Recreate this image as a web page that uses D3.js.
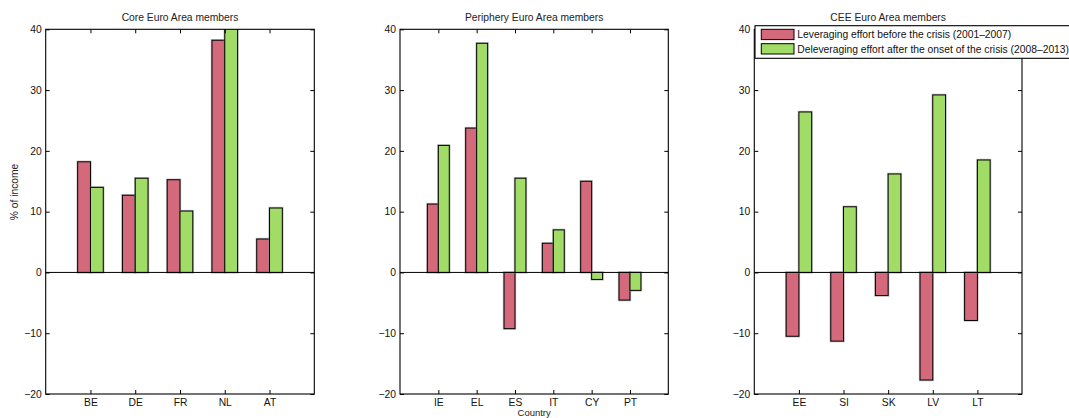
<!DOCTYPE html>
<html>
<head>
<meta charset="utf-8">
<script src="https://cdn.jsdelivr.net/npm/d3@7/dist/d3.min.js"></script>
<style>
  html, body { margin: 0; padding: 0; background: #fff; }
  svg { display: block; font-family: "Liberation Sans", Arial, Helvetica, sans-serif; }
  .tick text { font-size: 10.3px; fill: #111; }
</style>
</head>
<body>
<svg id="chart" width="1069" height="418"></svg>
<script>
// Household leveraging / deleveraging effort, % of income
const coreCountries = ["BE", "DE", "FR", "NL", "AT"];
const coreLeveraging = [18.2, 12.7, 15.25, 38.2, 5.5];
const coreDeleveraging = [14.0, 15.5, 10.1, 41.5, 10.6];

const periCountries = ["IE", "EL", "ES", "IT", "CY", "PT"];
const periLeveraging = [11.25, 23.75, -9.25, 4.8, 15.0, -4.55];
const periDeleveraging = [20.9, 37.7, 15.5, 7.0, -1.15, -2.95];

const ceeCountries = ["EE", "SI", "SK", "LV", "LT"];
const ceeLeveraging = [-10.5, -11.3, -3.8, -17.7, -7.9];
const ceeDeleveraging = [26.4, 10.8, 16.2, 29.2, 18.5];

const panelTitles = ["Core Euro Area members", "Periphery Euro Area members", "CEE Euro Area members"];
const seriesNames = [
  "Leveraging effort before the crisis (2001\u20132007)",
  "Deleveraging effort after the onset of the crisis (2008\u20132013)"
];
const yTicks = [-20, -10, 0, 10, 20, 30, 40];
const yDomain = [-20, 40];

const colors = ["#d4697b", "#a1dd66"];
const barWidth = 0.2857;   // each bar, in category units
const tickLen = 4;
const fontSize = 10.3;

const svg = d3.select("#chart");
const defs = svg.append("defs");

const panels = [
  { cats: coreCountries, series: [coreLeveraging, coreDeleveraging], left: 45.7, right: 314.3 },
  { cats: periCountries, series: [periLeveraging, periDeleveraging], left: 400, right: 668.3 },
  { cats: ceeCountries, series: [ceeLeveraging, ceeDeleveraging], left: 754.3, right: 1022 }
];
const plotTop = 29.3, plotBottom = 394;

const y = d3.scaleLinear().domain(yDomain).range([plotBottom, plotTop]);
const fmt = d => (d < 0 ? "\u2212" + Math.abs(d) : String(d));

panels.forEach((p, pi) => {
  const x = d3.scaleLinear().domain([0, p.cats.length + 1]).range([p.left, p.right]);
  const g = svg.append("g");

  defs.append("clipPath").attr("id", "clip" + pi)
    .append("rect")
    .attr("x", p.left).attr("y", plotTop)
    .attr("width", p.right - p.left).attr("height", plotBottom - plotTop);

  const bars = g.append("g").attr("clip-path", `url(#clip${pi})`);
  p.series.forEach((vals, si) => {
    const rows = vals.map((v, i) => ({ v, i }));
    const x0 = d => x(d.i + 1 + (si === 0 ? -barWidth : 0));
    const w = x(barWidth) - x(0);
    // soft halo around each bar edge
    bars.selectAll(null).data(rows).join("rect")
      .attr("x", x0).attr("width", w)
      .attr("y", d => y(Math.max(0, d.v)))
      .attr("height", d => Math.abs(y(d.v) - y(0)))
      .attr("fill", "none").attr("stroke", "#888").attr("stroke-opacity", 0.55)
      .attr("stroke-width", 2.4);
    bars.selectAll(null).data(rows).join("rect")
      .attr("x", x0).attr("width", w)
      .attr("y", d => y(Math.max(0, d.v)))
      .attr("height", d => Math.abs(y(d.v) - y(0)))
      .attr("fill", colors[si]).attr("stroke", "#000").attr("stroke-width", 1);
  });

  // zero baseline
  g.append("line")
    .attr("x1", p.left).attr("x2", p.right)
    .attr("y1", y(0)).attr("y2", y(0))
    .attr("stroke", "#000").attr("stroke-width", 1);

  const catTicks = p.cats.map((c, i) => i + 1);

  const yl = g.append("g").attr("transform", `translate(${p.left},0)`)
    .call(d3.axisLeft(y).tickValues(yTicks).tickFormat(fmt).tickSizeInner(-tickLen).tickSizeOuter(0).tickPadding(4));
  const yr = g.append("g").attr("transform", `translate(${p.right},0)`)
    .call(d3.axisRight(y).tickValues(yTicks).tickFormat("").tickSizeInner(-tickLen).tickSizeOuter(0));
  const xb = g.append("g").attr("transform", `translate(0,${plotBottom})`)
    .call(d3.axisBottom(x).tickValues(catTicks).tickFormat(d => p.cats[d - 1]).tickSizeInner(-tickLen).tickSizeOuter(0).tickPadding(4.5));
  const xt = g.append("g").attr("transform", `translate(0,${plotTop})`)
    .call(d3.axisTop(x).tickValues(catTicks).tickFormat("").tickSizeInner(-tickLen).tickSizeOuter(0));
  [yl, yr, xb, xt].forEach(a => {
    a.select(".domain").remove();
    a.selectAll(".tick line").attr("stroke", "#000");
    a.attr("font-family", null).attr("font-size", null);
  });

  // plot box
  g.append("rect")
    .attr("x", p.left).attr("y", plotTop)
    .attr("width", p.right - p.left).attr("height", plotBottom - plotTop)
    .attr("fill", "none").attr("stroke", "#000").attr("stroke-width", 1.1);

  g.append("text")
    .attr("x", (p.left + p.right) / 2).attr("y", 20.5)
    .attr("text-anchor", "middle").attr("font-size", fontSize).attr("fill", "#222")
    .text(panelTitles[pi]);
});

// axis titles
svg.append("text")
  .attr("transform", "translate(18,192) rotate(-90)")
  .attr("text-anchor", "middle").attr("font-size", fontSize).attr("fill", "#222")
  .text("% of income");
svg.append("text")
  .attr("x", (panels[1].left + panels[1].right) / 2).attr("y", 416)
  .attr("text-anchor", "middle").attr("font-size", 9.5).attr("fill", "#222")
  .text("Country");

// legend over the CEE panel
const lg = svg.append("g");
const lx = 755, ly = 25.7;
lg.append("rect")
  .attr("x", lx).attr("y", ly).attr("width", 330).attr("height", 32.6)
  .attr("fill", "#fff").attr("stroke", "#000").attr("stroke-width", 1.1);
seriesNames.forEach((name, i) => {
  const yy = ly + 3.6 + i * 14.4;
  lg.append("rect")
    .attr("x", lx + 6.3).attr("y", yy).attr("width", 32.7).attr("height", 10.3)
    .attr("fill", colors[i]).attr("stroke", "#000").attr("stroke-width", 1);
  lg.append("text")
    .attr("x", lx + 42.3).attr("y", yy + 8.9)
    .attr("font-size", fontSize).attr("fill", "#111")
    .text(name);
});
</script>
</body>
</html>
